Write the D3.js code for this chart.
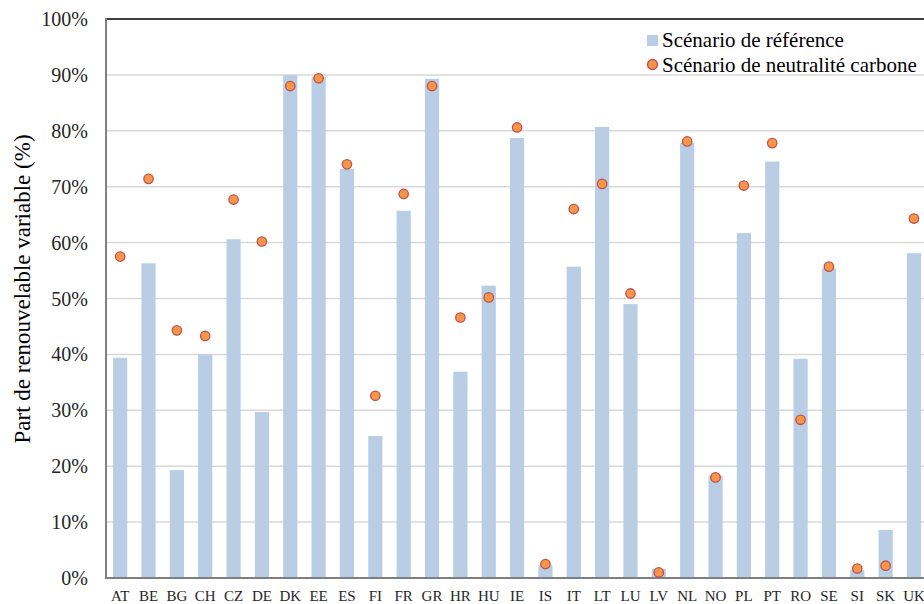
<!DOCTYPE html>
<html>
<head>
<meta charset="utf-8">
<script src="https://cdn.jsdelivr.net/npm/d3@7"></script>
<style>
  body { margin: 0; background: #fff; }
</style>
</head>
<body>
<div id="chart"></div>
<script>
// country codes on the x axis
var countries = ["AT", "BE", "BG", "CH", "CZ", "DE", "DK", "EE", "ES", "FI", "FR", "GR", "HR", "HU", "IE",
                 "IS", "IT", "LT", "LU", "LV", "NL", "NO", "PL", "PT", "RO", "SE", "SI", "SK", "UK"];

// Scénario de référence (bars)
var reference = [39.4, 56.3, 19.3, 40.0, 60.6, 29.7, 90.0, 89.6, 73.2, 25.4, 65.7, 89.3, 36.9, 52.3, 78.7,
                 2.3, 55.7, 80.7, 49.0, 1.6, 77.8, 18.3, 61.7, 74.5, 39.2, 55.4, 1.4, 8.6, 58.1];

// Scénario de neutralité carbone (dots)
var neutral = [57.5, 71.4, 44.3, 43.3, 67.7, 60.2, 88.0, 89.4, 74.0, 32.6, 68.7, 88.0, 46.6, 50.2, 80.6,
               2.5, 66.0, 70.5, 50.9, 1.0, 78.1, 18.0, 70.2, 77.8, 28.3, 55.7, 1.7, 2.2, 64.3];

var yTicks = [0, 10, 20, 30, 40, 50, 60, 70, 80, 90, 100];
var legendLabels = ["Scénario de référence", "Scénario de neutralité carbone"];

var W = 924, H = 604;
var margin = {top: 19, left: 106, bottom: 26};
var step = 28.35;
var serif = "'Liberation Serif', 'Times New Roman', Tinos, 'DejaVu Serif', serif";

var svg = d3.select("#chart").append("svg")
    .attr("width", W)
    .attr("height", H)
    .attr("font-family", serif)
    .style("display", "block");

var x = d3.scaleBand()
    .domain(countries)
    .range([margin.left, margin.left + step * countries.length])
    .paddingInner(0.5)
    .paddingOuter(0.25);

var y = d3.scaleLinear()
    .domain([0, 100])
    .range([H - margin.bottom, margin.top]);

// gridlines
svg.append("g")
    .selectAll("line")
    .data(yTicks.filter(function(d) { return d > 0 && d < 100; }))
    .enter().append("line")
    .attr("x1", margin.left)
    .attr("x2", W)
    .attr("y1", function(d) { return y(d); })
    .attr("y2", function(d) { return y(d); })
    .attr("stroke", "#d9d9d9")
    .attr("stroke-width", 1.5);

// top border
svg.append("line")
    .attr("x1", margin.left).attr("x2", W)
    .attr("y1", y(100)).attr("y2", y(100))
    .attr("stroke", "#000")
    .attr("stroke-width", 1.5);

// bars
svg.append("g")
    .selectAll("rect")
    .data(reference)
    .enter().append("rect")
    .attr("x", function(d, i) { return x(countries[i]); })
    .attr("width", x.bandwidth())
    .attr("y", function(d) { return y(d); })
    .attr("height", function(d) { return y(0) - y(d); })
    .attr("fill", "#b9cde5");

// axes lines
svg.append("line")
    .attr("x1", margin.left).attr("x2", margin.left)
    .attr("y1", y(100) - 0.75).attr("y2", y(0))
    .attr("stroke", "#7f7f7f")
    .attr("stroke-width", 2);

svg.append("line")
    .attr("x1", margin.left - 1).attr("x2", W)
    .attr("y1", y(0)).attr("y2", y(0))
    .attr("stroke", "#7f7f7f")
    .attr("stroke-width", 2);

// dots
svg.append("g")
    .selectAll("circle")
    .data(neutral)
    .enter().append("circle")
    .attr("cx", function(d, i) { return x(countries[i]) + x.bandwidth() / 2; })
    .attr("cy", function(d) { return y(d); })
    .attr("r", 4.7)
    .attr("fill", "#f79646")
    .attr("stroke", "#c0504d")
    .attr("stroke-width", 1.3);

// y tick labels
svg.append("g")
    .selectAll("text")
    .data(yTicks)
    .enter().append("text")
    .attr("x", 88)
    .attr("y", function(d) { return y(d); })
    .attr("dy", "0.35em")
    .attr("text-anchor", "end")
    .attr("font-size", 20)
    .attr("fill", "#262626")
    .text(function(d) { return d + "%"; });

// x labels
svg.append("g")
    .selectAll("text")
    .data(countries)
    .enter().append("text")
    .attr("x", function(d) { return x(d) + x.bandwidth() / 2; })
    .attr("y", 601)
    .attr("text-anchor", "middle")
    .attr("font-size", 15)
    .attr("fill", "#262626")
    .text(function(d) { return d; });

// y axis title
svg.append("text")
    .attr("transform", "translate(30,289) rotate(-90)")
    .attr("text-anchor", "middle")
    .attr("font-size", 23)
    .attr("fill", "#000")
    .text("Part de renouvelable variable (%)");

// legend
var legend = svg.append("g");
legend.append("rect")
    .attr("x", 647).attr("y", 35)
    .attr("width", 11).attr("height", 11)
    .attr("fill", "#b9cde5");
legend.append("circle")
    .attr("cx", 652.5).attr("cy", 64.5)
    .attr("r", 5)
    .attr("fill", "#f79646")
    .attr("stroke", "#c0504d")
    .attr("stroke-width", 1.3);
legend.selectAll("text")
    .data(legendLabels)
    .enter().append("text")
    .attr("x", 662)
    .attr("y", function(d, i) { return 46.5 + i * 25.5; })
    .attr("font-size", 21)
    .attr("fill", "#000")
    .text(function(d) { return d; });
</script>
</body>
</html>
